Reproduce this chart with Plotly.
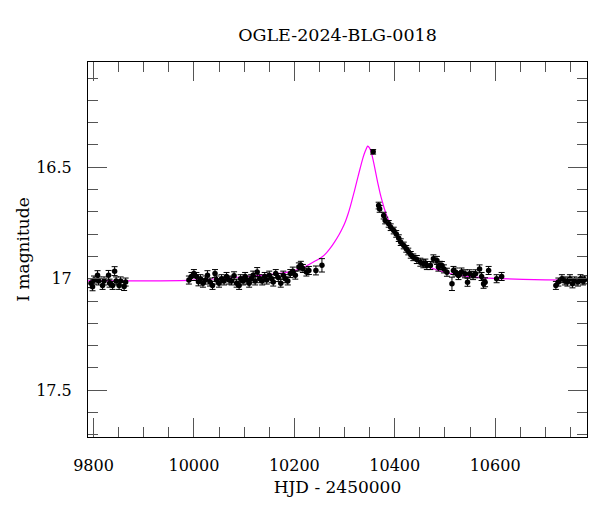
import plotly.graph_objects as go

# photometry (HJD - 2450000, I mag, error)
hjd = [
    # season 1
    9795, 9798, 9801, 9808, 9810, 9818, 9821, 9830, 9832, 9838, 9842, 9845,
    9851, 9854, 9861, 9864,
    # season 2
    9990, 9995, 10000, 10005, 10009, 10013, 10018, 10023, 10027, 10032,
    10037, 10042, 10045, 10050, 10055, 10060, 10065, 10070, 10075, 10080,
    10085, 10090, 10093, 10098, 10102, 10106, 10110, 10114, 10118, 10122,
    10126, 10131, 10136, 10141, 10145, 10150, 10155, 10158, 10163, 10168,
    10173, 10178, 10182, 10187, 10192, 10197, 10202, 10209, 10213, 10217,
    10224, 10229, 10243, 10255,
    # season 3
    10357, 10368, 10370, 10378, 10381, 10388, 10392, 10398, 10403, 10408,
    10412, 10418, 10423, 10427, 10432, 10437, 10444, 10451, 10457, 10461,
    10464, 10471, 10477, 10484, 10487, 10490, 10494, 10498, 10504, 10514,
    10517, 10521, 10527, 10533, 10540, 10545, 10549, 10556, 10561, 10569,
    10573, 10577, 10580, 10587, 10603, 10613,
    # season 4
    10721, 10726, 10733, 10739, 10744, 10749, 10754, 10758, 10765, 10770,
    10775, 10778,
]
imag = [
    17.020, 17.036, 17.006, 16.984, 17.010, 17.030, 17.010, 16.985, 17.020,
    17.030, 16.966, 17.010, 17.030, 17.010, 17.035, 17.015,
    17.006, 16.990, 16.977, 16.990, 17.014, 17.000, 17.020, 17.006, 16.984,
    17.015, 17.030, 16.977, 17.006, 17.020, 17.000, 17.010, 16.990, 17.006,
    17.010, 16.987, 17.020, 17.030, 17.000, 17.010, 16.990, 17.006, 17.020,
    17.000, 16.984, 17.010, 16.970, 17.000, 17.010, 16.990, 17.006, 16.984,
    17.000, 17.015, 16.977, 16.995, 17.020, 16.984, 17.000, 17.010, 16.977,
    16.966, 16.984, 16.947, 16.940, 16.954, 16.970, 16.963, 16.963, 16.940,
    16.431, 16.672, 16.687, 16.717, 16.739, 16.754, 16.769, 16.784, 16.799,
    16.818, 16.836, 16.851, 16.866, 16.878, 16.893, 16.904, 16.914, 16.926,
    16.933, 16.930, 16.941, 16.941, 16.911, 16.918, 16.948, 16.940, 16.941,
    16.956, 16.971, 17.023, 16.963, 16.970, 16.986, 16.970, 16.978, 17.016,
    16.978, 16.986, 16.978, 16.956, 16.990, 17.023, 17.016, 16.963, 17.000,
    16.990,
    17.030, 17.015, 17.000, 17.010, 17.015, 17.000, 17.023, 17.010, 17.015,
    17.000, 17.010, 17.005,
]
ierr = [
    0.020, 0.018, 0.018, 0.020, 0.018, 0.018, 0.018, 0.022, 0.018, 0.018,
    0.020, 0.018, 0.018, 0.018, 0.018, 0.018,
    0.018, 0.018, 0.018, 0.018, 0.018, 0.018, 0.018, 0.018, 0.020, 0.018,
    0.018, 0.018, 0.018, 0.018, 0.018, 0.018, 0.018, 0.018, 0.018, 0.018,
    0.018, 0.018, 0.018, 0.018, 0.018, 0.018, 0.018, 0.018, 0.018, 0.018,
    0.020, 0.018, 0.018, 0.018, 0.018, 0.018, 0.018, 0.018, 0.018, 0.018,
    0.018, 0.018, 0.018, 0.018, 0.018, 0.018, 0.018, 0.018, 0.018, 0.018,
    0.018, 0.018, 0.020, 0.030,
    0.010, 0.015, 0.015, 0.015, 0.015, 0.015, 0.015, 0.015, 0.015, 0.015,
    0.015, 0.015, 0.015, 0.015, 0.015, 0.015, 0.018, 0.018, 0.018, 0.018,
    0.018, 0.018, 0.018, 0.018, 0.018, 0.018, 0.018, 0.018, 0.018, 0.030,
    0.018, 0.018, 0.018, 0.018, 0.018, 0.018, 0.018, 0.018, 0.018, 0.018,
    0.018, 0.020, 0.020, 0.018, 0.018, 0.018,
    0.018, 0.018, 0.018, 0.018, 0.018, 0.018, 0.018, 0.018, 0.018, 0.018,
    0.018, 0.018,
]

# model curve
model_t = [
    9789, 9900, 10000, 10113, 10179, 10212, 10232, 10255, 10264, 10272,
    10280, 10289, 10296, 10302, 10307, 10312, 10317, 10322, 10327, 10332,
    10336, 10339, 10342, 10346, 10350, 10354, 10358, 10362, 10366, 10371,
    10375, 10378, 10384, 10391, 10398, 10411, 10420, 10431, 10444, 10457,
    10484, 10524, 10570, 10610, 10700, 10783,
]
model_m = [
    17.010, 17.010, 17.006, 16.989, 16.974, 16.956, 16.933, 16.903, 16.884,
    16.862, 16.836, 16.803, 16.773, 16.742, 16.710, 16.672, 16.630, 16.586,
    16.541, 16.497, 16.464, 16.442, 16.424, 16.405, 16.414, 16.440, 16.478,
    16.523, 16.568, 16.618, 16.652, 16.676, 16.717, 16.752, 16.784, 16.829,
    16.858, 16.886, 16.912, 16.933, 16.961, 16.983, 16.995, 17.000, 17.005,
    17.007,
]

xticks = [9800, 10000, 10200, 10400, 10600]
xticklabels = ["9800", "10000", "10200", "10400", "10600"]
yticks = [16.5, 17, 17.5]
yticklabels = ["16.5", "17", "17.5"]

FONT = "DejaVu Serif"

fig = go.Figure()
fig.add_trace(go.Scatter(x=model_t, y=model_m, mode="lines",
                         line=dict(color="#ff00ff", width=1.2,
                                   shape="spline", smoothing=0.5),
                         hoverinfo="skip", showlegend=False))
fig.add_trace(go.Scatter(x=hjd, y=imag, mode="markers",
                         marker=dict(color="black", size=5.5),
                         error_y=dict(type="data", array=ierr, color="black",
                                      thickness=1, width=3),
                         showlegend=False))

axis_common = dict(showgrid=False, zeroline=False, showline=True,
                   linecolor="black", linewidth=1, mirror="ticks",
                   ticks="inside", tickcolor="#555", tickwidth=1,
                   ticklen=19, automargin=False,
                   tickfont=dict(family=FONT, size=16, color="black"))

fig.update_xaxes(range=[9789, 10783], tickvals=xticks, ticktext=xticklabels,
                 ticklabelstandoff=14,
                 minor=dict(dtick=50, tick0=9800, ticks="inside", ticklen=10,
                            tickcolor="#555", tickwidth=1),
                 title=dict(text="HJD - 2450000", standoff=6,
                            font=dict(family=FONT, size=17, color="black")),
                 **axis_common)
fig.update_yaxes(range=[17.71, 16.028], tickvals=yticks, ticktext=yticklabels,
                 ticklabelstandoff=12,
                 minor=dict(dtick=0.1, tick0=16.0, ticks="inside", ticklen=10,
                            tickcolor="#555", tickwidth=1),
                 **axis_common)

# y title as an annotation so its place can be set exactly
fig.add_annotation(text="I magnitude", textangle=-90, showarrow=False,
                   xref="paper", yref="paper", x=-0.132, y=0.5,
                   xanchor="center", yanchor="middle",
                   font=dict(family=FONT, size=17, color="black"))

# the page adds an 8 px body margin, so the figure is drawn 8 px smaller
fig.update_layout(width=592, height=504,
                  margin=dict(l=80, r=13, t=54, b=75),
                  paper_bgcolor="white", plot_bgcolor="white",
                  title=dict(text="OGLE-2024-BLG-0018", xref="paper", x=0.5,
                             xanchor="center", y=0.946, yanchor="middle",
                             font=dict(family=FONT, size=17.5, color="black")),
                  font=dict(family=FONT))

fig.write_html("out.html")
